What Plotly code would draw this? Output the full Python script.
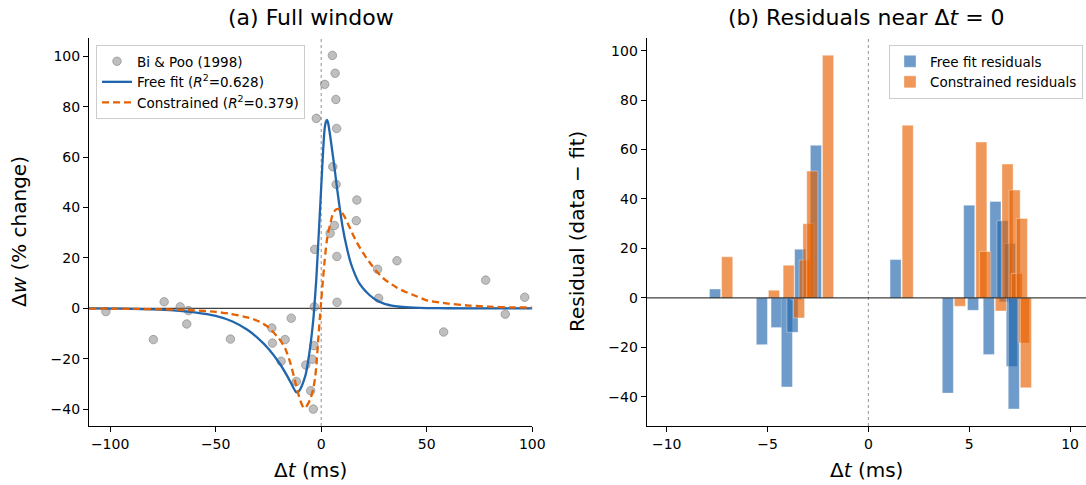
import numpy as np
import plotly.graph_objects as go

# ---------------- data ----------------
# Bi & Poo (1998) scatter: spike timing (ms) and weight change (%)
dt_data = [-102, -79.5, -74.4, -66.8, -62.9, -63.7, -43, -23.4, -23.1, -17.1,
           -14.2, -19, -11.8, 16.9, 16.6, 26.7, 27.2, 35.9, 58, 77.9, 87.2, 96.4,
           -7.3, -4.98, -4.25, -3.74, -3.46, -3.27, -3.08, -2.3,
           1.65, 4.24, 5.3, 5.49, 6.27, 6.6, 6.95, 7.06, 7.31, 7.41, 7.51]
dw_data = [-1.3, -12.4, 2.6, 0.6, -0.9, -6.2, -12.2, -7.8, -13.8, -12.4,
           -3.9, -21, -29, 43, 34.8, 15.5, 4, 18.9, -9.4, 11.2, -2.3, 4.4,
           -22.5, -32.7, -20.2, -40, -14.8, 0.6, 23.4, 75.4,
           88.9, 29.8, 100.4, 56.2, 32.9, 93.3, 82.9, 49.2, 71.4, 20.6, 2.4]

# Free fit curve
free_t = [-110, -100, -90, -80, -70, -60, -50, -42, -35, -30, -25, -20, -16, -13.5,
          -11.8, -10.5, -9.2, -8.2, -7.3, -6.2, -5, -4.25, -3.74, -3.3, -2.3, -1.2,
          0, 1, 1.65, 2.2, 2.7, 3.3, 4.24, 5.3, 6.3, 7.4, 8.5, 10, 12, 14, 16, 18,
          20, 23, 26, 30, 35, 40, 50, 60, 80, 100]
free_w = [-0.05, -0.1, -0.2, -0.4, -0.8, -1.6, -3.0, -5.2, -8.5, -11.8, -16, -21.5, -27, -31,
          -33.3, -32.8, -30.8, -28.6, -26.1, -21, -14, -8.5, -4.5, 0, 12, 29,
          48, 64, 71.5, 74, 74.8, 73.5, 68.5, 62, 55.8, 48.3, 41.5, 33, 24.5, 18, 13.5, 10,
          7.8, 5.2, 3.3, 1.8, 0.9, 0.45, 0.12, 0.04, 0.01, 0]

# Constrained fit curve
con_t = [-110, -90, -75, -60, -50, -43, -35, -30, -25, -20, -17, -14.5, -12.5, -11,
         -9.5, -8.3, -7.3, -6.2, -5, -4.25, -3.74, -3.27, -2.8, -2.3, -1.5, -0.7,
         0, 0.8, 1.65, 2.6, 3.4, 4.24, 5.3, 6.3, 7.2, 8.2, 9.5, 11, 13, 15, 17, 20,
         23, 26.4, 30, 35.9, 40, 44, 50, 60, 70, 80, 90, 100]
con_w = [-0.1, -0.2, -0.4, -0.8, -1.4, -2.2, -3.6, -5, -7.5, -12, -16, -22, -28.5, -33.5,
         -37.5, -39.5, -39.3, -37.8, -35.8, -33.4, -31.9, -29.6, -27, -22.7, -13.5, -4.5,
         3, 11, 19.1, 26.5, 30.5, 33.2, 37, 38.6, 39.3, 39.4, 38.5, 36.5, 33, 29.3, 26, 21.8,
         18.2, 14.5, 11.5, 8.2, 6.5, 5.2, 3.2, 1.9, 1.1, 0.65, 0.4, 0.3]

# Residuals for points near dt = 0
near_dt = [-7.3, -4.98, -4.25, -3.74, -3.46, -3.27, -3.08, -2.3, 1.65, 4.24, 5.3,
           5.49, 6.27, 6.6, 6.95, 7.06, 7.31, 7.41, 7.51]
resid_free = [3.6, -18.9, -12.0, -36.0, -13.9, -0.7, 19.7, 61.7, 15.5, -38.5, 37.5,
              -5.0, -22.9, 39.0, 31.2, -1.6, 22.0, -27.7, -44.9]
resid_con = [16.6, 3.1, 13.2, -8.1, 15.3, 30.0, 51.3, 98.1, 69.8, -3.4, 63.0,
             18.8, -5.3, 54.1, 43.6, 9.9, 32.1, -18.2, -36.3]

r2_free = 0.628
r2_con = 0.379

# ---------------- styling ----------------
FONT = "DejaVu Sans"
BLUE = "#2166ac"
ORANGE = "#e66101"
BLUE_A = "rgba(33,102,172,0.65)"
ORANGE_A = "rgba(230,97,1,0.65)"
W, H = 1086, 485
ML, MR, MT, MB = 89, 0, 38, 59
PW = W - ML - MR
PH = H - MT - MB

def px_x(p):
    return (p - ML) / PW

def px_y(p):
    return (H - MB - p) / PH

fig = go.Figure()

fig.add_trace(go.Scatter(
    x=dt_data, y=dw_data, mode="markers", name="Bi &amp; Poo (1998)",
    marker=dict(size=8.5, color="rgba(128,128,128,0.5)",
                line=dict(color="rgba(120,120,120,0.55)", width=1)),
    xaxis="x", yaxis="y", legend="legend"))
fig.add_trace(go.Scatter(
    x=free_t, y=free_w, mode="lines",
    name=f"Free fit (<i>R</i><sup>2</sup>={r2_free:.3f})",
    line=dict(color=BLUE, width=2.3, shape="spline", smoothing=0.6),
    xaxis="x", yaxis="y", legend="legend"))
fig.add_trace(go.Scatter(
    x=con_t, y=con_w, mode="lines",
    name=f"Constrained (<i>R</i><sup>2</sup>={r2_con:.3f})",
    line=dict(color=ORANGE, width=2.3, dash="7px,4px", shape="spline", smoothing=0.6),
    xaxis="x", yaxis="y", legend="legend"))

near = np.array(near_dt)
fig.add_trace(go.Bar(
    x=near - 0.3, y=resid_free, width=0.55, name="Free fit residuals",
    marker=dict(color=BLUE_A, line=dict(color="rgba(255,255,255,0.6)", width=0.6)),
    xaxis="x2", yaxis="y2", legend="legend2"))
fig.add_trace(go.Bar(
    x=near + 0.3, y=resid_con, width=0.55, name="Constrained residuals",
    marker=dict(color=ORANGE_A, line=dict(color="rgba(255,255,255,0.6)", width=0.6)),
    xaxis="x2", yaxis="y2", legend="legend2"))

axis_common = dict(showgrid=False, zeroline=False, showline=True, linecolor="black",
                   linewidth=1.1, ticks="outside", ticklen=5, tickwidth=1.1,
                   tickcolor="black", tickfont=dict(family=FONT, size=14, color="black"),
                   mirror=False, automargin=False)

left_end = px_x(532.3)
right_start = px_x(646.7)

fig.update_layout(
    template="none",
    width=W, height=H,
    margin=dict(l=ML, r=MR, t=MT, b=MB, pad=0, autoexpand=False),
    paper_bgcolor="white", plot_bgcolor="white",
    font=dict(family=FONT, size=14, color="black"),
    barmode="overlay",
    xaxis=dict(domain=[0, left_end], range=[-110, 100], anchor="y",
               tickvals=[-100, -50, 0, 50, 100], **axis_common),
    yaxis=dict(domain=[0, 1], range=[-46.7, 107.3], anchor="x",
               tickvals=[-40, -20, 0, 20, 40, 60, 80, 100], **axis_common),
    xaxis2=dict(domain=[right_start, 1], range=[-10.99, 10.79], anchor="y2",
                tickvals=[-10, -5, 0, 5, 10], **axis_common),
    yaxis2=dict(domain=[0, 1], range=[-51.8, 105.1], anchor="x2",
                tickvals=[-40, -20, 0, 20, 40, 60, 80, 100], **axis_common),
    legend=dict(x=px_x(96), y=px_y(45), xanchor="left", yanchor="top",
                bgcolor="rgba(255,255,255,0.8)", bordercolor="#cccccc", borderwidth=1,
                font=dict(family=FONT, size=13.5, color="black")),
    legend2=dict(x=px_x(1083), y=px_y(45), xanchor="right", yanchor="top",
                 bgcolor="rgba(255,255,255,0.8)", bordercolor="#cccccc", borderwidth=1,
                 font=dict(family=FONT, size=13.5, color="black")),
    showlegend=True,
)

# reference lines
fig.add_shape(type="line", xref="x", yref="y", x0=-110, x1=100, y0=0, y1=0,
              line=dict(color="rgba(0,0,0,0.75)", width=1.1), layer="below")
fig.add_shape(type="line", xref="x", yref="y domain", x0=0, x1=0, y0=0, y1=1,
              line=dict(color="rgba(60,60,60,0.8)", width=0.7, dash="dot"), layer="below")
fig.add_shape(type="line", xref="x2", yref="y2", x0=-10.99, x1=10.79, y0=0, y1=0,
              line=dict(color="rgba(0,0,0,0.75)", width=1.1), layer="above")
fig.add_shape(type="line", xref="x2", yref="y2 domain", x0=0, x1=0, y0=0, y1=1,
              line=dict(color="rgba(60,60,60,0.8)", width=0.7, dash="dot"), layer="below")

# titles and axis labels
ann = []
ann.append(dict(text="(a) Full window", x=px_x(310.5), y=px_y(18), xref="paper", yref="paper",
                showarrow=False, font=dict(family=FONT, size=22, color="black"),
                xanchor="center", yanchor="middle"))
ann.append(dict(text="(b) Residuals near Δ<i>t</i> = 0", x=px_x(866), y=px_y(18),
                xref="paper", yref="paper", showarrow=False,
                font=dict(family=FONT, size=22, color="black"), xanchor="center", yanchor="middle"))
ann.append(dict(text="Δ<i>t</i> (ms)", x=px_x(310.5), y=px_y(470), xref="paper", yref="paper",
                showarrow=False, font=dict(family=FONT, size=20, color="black"),
                xanchor="center", yanchor="middle"))
ann.append(dict(text="Δ<i>t</i> (ms)", x=px_x(866), y=px_y(470), xref="paper", yref="paper",
                showarrow=False, font=dict(family=FONT, size=20, color="black"),
                xanchor="center", yanchor="middle"))
ann.append(dict(text="Δ<i>w</i> (% change)", x=px_x(19), y=px_y(232), xref="paper", yref="paper",
                showarrow=False, textangle=-90, font=dict(family=FONT, size=20, color="black"),
                xanchor="center", yanchor="middle"))
ann.append(dict(text="Residual (data − fit)", x=px_x(577), y=px_y(232), xref="paper", yref="paper",
                showarrow=False, textangle=-90, font=dict(family=FONT, size=20, color="black"),
                xanchor="center", yanchor="middle"))
fig.update_layout(annotations=ann)

fig.write_html("out.html")
